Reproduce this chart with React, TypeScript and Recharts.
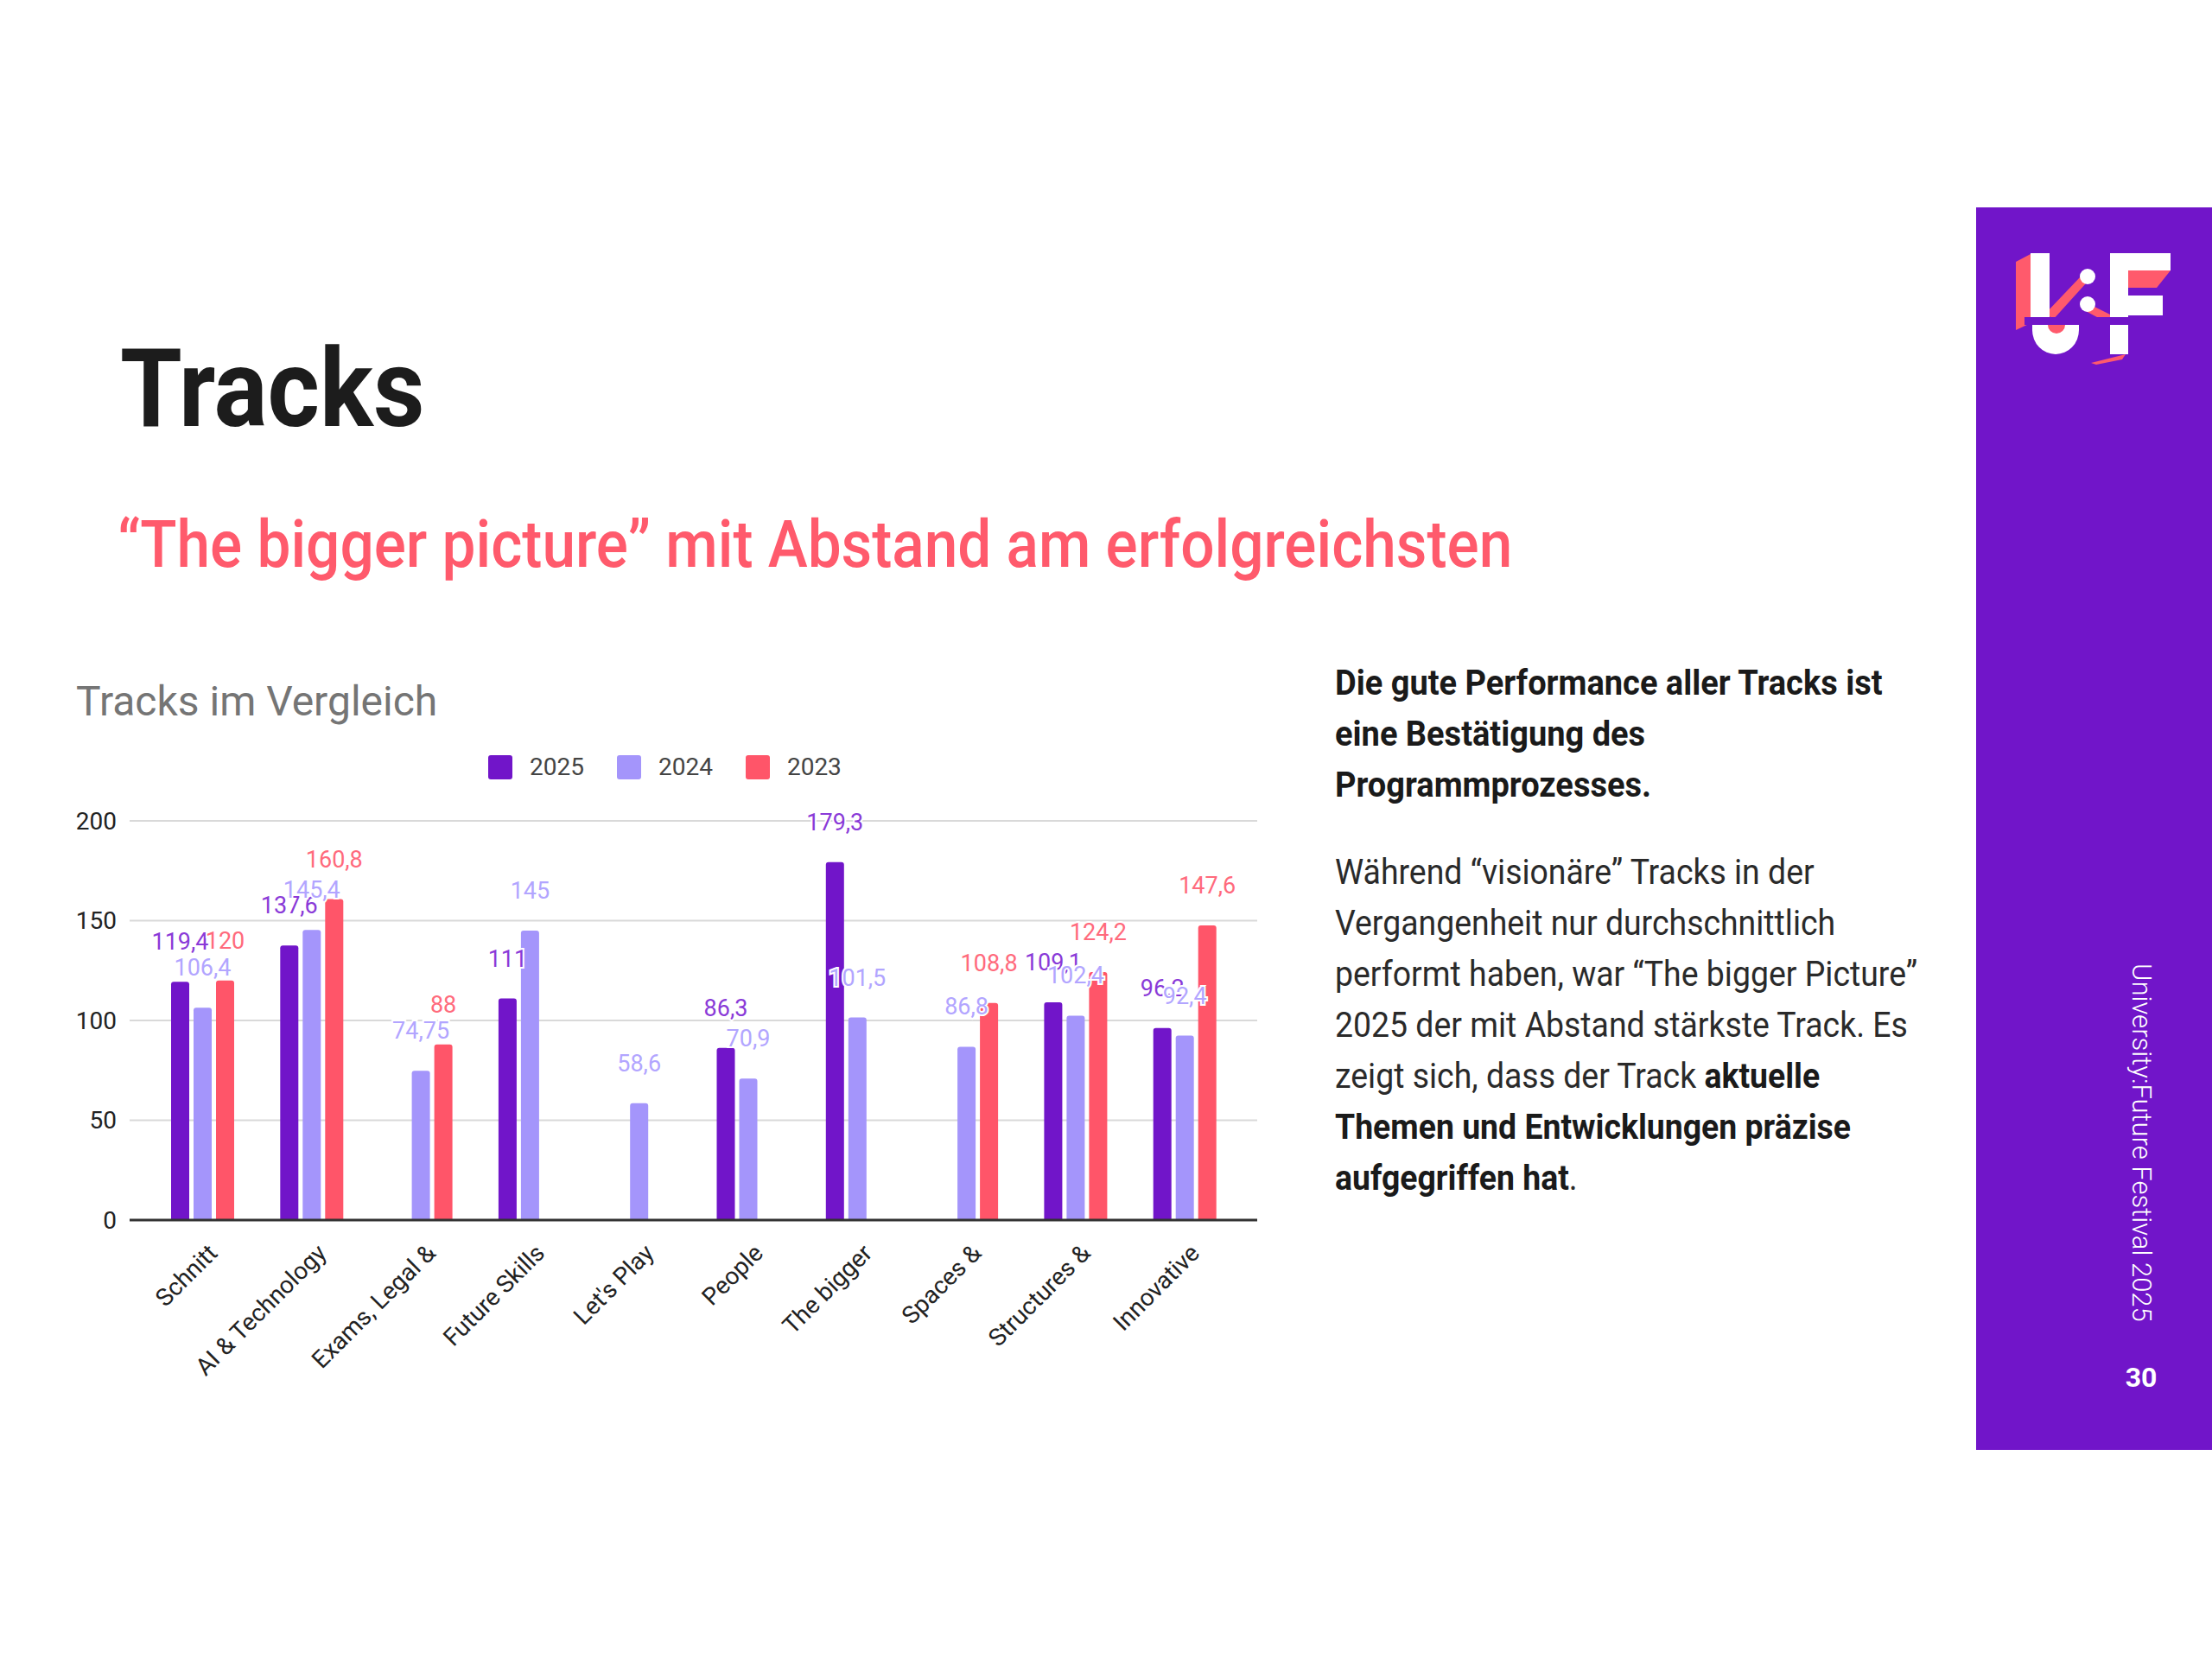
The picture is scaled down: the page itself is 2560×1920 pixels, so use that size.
import React from "react";
import {
  BarChart,
  Bar,
  XAxis,
  YAxis,
  CartesianGrid,
  Legend,
  LabelList,
} from "recharts";

const tracks = [
  "Schnitt",
  "AI & Technology",
  "Exams, Legal &",
  "Future Skills",
  "Let's Play",
  "People",
  "The bigger",
  "Spaces &",
  "Structures &",
  "Innovative",
];
const seriesNames = ["2025", "2024", "2023"];
const y2025 = [119.4, 137.6, null, 111, null, 86.3, 179.3, null, 109.1, 96.2];
const y2024 = [106.4, 145.4, 74.75, 145, 58.6, 70.9, 101.5, 86.8, 102.4, 92.4];
const y2023 = [120, 160.8, 88, null, null, null, null, 108.8, 124.2, 147.6];
const yTicks = [0, 50, 100, 150, 200];

const chartData = tracks.map((name, i) => ({
  name,
  "2025": y2025[i],
  "2024": y2024[i],
  "2023": y2023[i],
}));

const PURPLE = "#7115c9";
const LAVENDER = "#a495fb";
const CORAL = "#ff5569";

const fmt = (v: number) => String(v).replace(".", ",");

const makeLabel = (color: string) => (p: any) => {
  const { x, y, width, value } = p;
  if (value == null) return null;
  return (
    <text
      x={x + width / 2}
      y={y - 37}
      textAnchor="middle"
      fontSize={27}
      fontFamily="Roboto"
      fill={color}
      stroke="#fff"
      strokeWidth={4}
      paintOrder="stroke"
    >
      {fmt(value)}
    </text>
  );
};

const XTick = (props: any) => {
  const { x, y, payload } = props;
  return (
    <g transform={`translate(${x + 19},${y + 40})`}>
      <text
        textAnchor="end"
        transform="rotate(-45)"
        fontSize={28}
        fontFamily="Roboto"
        fill="#222"
      >
        {payload.value}
      </text>
    </g>
  );
};

const renderLegend = (props: any) => {
  const items = seriesNames
    .map((n) => props.payload.find((p: any) => p.value === n))
    .filter(Boolean);
  return (
    <div style={{ display: "flex", alignItems: "center", fontFamily: "Roboto" }}>
      {items.map((item: any) => (
        <div
          key={item.value}
          style={{ display: "flex", alignItems: "center", marginRight: 38 }}
        >
          <div
            style={{
              width: 28,
              height: 28,
              borderRadius: 3,
              background: item.color,
              marginRight: 20,
            }}
          />
          <span style={{ fontSize: 28, color: "#444" }}>{item.value}</span>
        </div>
      ))}
    </div>
  );
};

const narrow = (k: number): React.CSSProperties => ({
  display: "inline-block",
  whiteSpace: "nowrap",
  transform: `scaleX(${k})`,
  transformOrigin: "0 0",
});

const Logo = () => (
  <svg
    width={240}
    height={170}
    style={{ position: "absolute", left: 2310, top: 270 }}
  >
    <polygon points="23,33 40,24 40,104 23,112" fill="#ff5a6c" />
    <polygon points="58,92 98,50 104,58 66,100" fill="#ff5a6c" />
    <polygon points="104,80 136,96 130,104 100,88" fill="#ff5a6c" />
    <polygon points="153,43 202,43 186,63 153,63" fill="#ff5a6c" />
    <polygon points="110,150 150,140 146,146 116,152" fill="#ff5a6c" />
    <rect x={40} y={23} width={22} height={74} fill="#fff" />
    <circle cx={106} cy={50} r={9} fill="#fff" />
    <circle cx={106} cy={82} r={9} fill="#fff" />
    <path d="M42,106 L42,112 A27,28 0 0 0 96,112 L96,106 Z" fill="#fff" />
    <path d="M60,106 A10,10 0 0 0 80,106 Z" fill="#ff5a6c" />
    <rect x={132} y={23} width={21} height={117} fill="#fff" />
    <rect x={132} y={23} width={70} height={20} fill="#fff" />
    <rect x={153} y={72} width={40} height={23} fill="#fff" />
    <rect x={33} y={97} width={170} height={9} fill={PURPLE} />
  </svg>
);

export default function App() {
  return (
    <div
      style={{
        position: "absolute",
        left: 0,
        top: 0,
        width: 2560,
        height: 1920,
        background: "#fff",
        fontFamily: "Roboto",
        overflow: "hidden",
      }}
    >
      <div
        style={{
          position: "absolute",
          left: 139,
          top: 387,
          fontSize: 126,
          lineHeight: "126px",
          fontWeight: 700,
          color: "#1c1c1c",
        }}
      >
        <span style={narrow(0.92)}>Tracks</span>
      </div>
      <div
        style={{
          position: "absolute",
          left: 136,
          top: 592,
          fontSize: 76,
          lineHeight: "76px",
          fontWeight: 500,
          color: "#ff5a6c",
        }}
      >
        <span style={narrow(0.912)}>
          “The bigger picture” mit Abstand am erfolgreichsten
        </span>
      </div>

      <div
        style={{
          position: "absolute",
          left: 88,
          top: 788,
          fontSize: 48,
          lineHeight: "48px",
          color: "#757575",
        }}
      >
        Tracks im Vergleich
      </div>

      <div style={{ position: "absolute", left: 60, top: 840 }}>
        <BarChart
          width={1420}
          height={780}
          data={chartData}
          margin={{ top: 110, right: 25, bottom: 8, left: 0 }}
          barSize={21}
          barGap={5}
        >
          <CartesianGrid vertical={false} stroke="#d9d9d9" strokeWidth={2} />
          <XAxis
            dataKey="name"
            interval={0}
            height={200}
            padding={{ left: 21, right: 21 }}
            tickLine={false}
            tickSize={0}
            tickMargin={0}
            axisLine={{ stroke: "#333", strokeWidth: 3 }}
            tick={<XTick />}
          />
          <YAxis
            width={90}
            domain={[0, 200]}
            ticks={yTicks}
            axisLine={false}
            tickLine={false}
            tickMargin={9}
            tick={{ fontSize: 28, fill: "#222", fontFamily: "Roboto" }}
          />
          <Legend
            layout="horizontal"
            verticalAlign="middle"
            align="center"
            content={renderLegend}
            wrapperStyle={{ left: 505, top: 31, width: 600, height: 30 }}
          />
          <Bar dataKey="2025" fill={PURPLE} radius={[3, 3, 0, 0]} isAnimationActive={false}>
            <LabelList dataKey="2025" content={makeLabel("#8a3ad8")} />
          </Bar>
          <Bar dataKey="2024" fill={LAVENDER} radius={[3, 3, 0, 0]} isAnimationActive={false}>
            <LabelList dataKey="2024" content={makeLabel("#b2a5ff")} />
          </Bar>
          <Bar dataKey="2023" fill={CORAL} radius={[3, 3, 0, 0]} isAnimationActive={false}>
            <LabelList dataKey="2023" content={makeLabel("#ff6a7c")} />
          </Bar>
        </BarChart>
      </div>

      <div
        style={{
          position: "absolute",
          left: 1545,
          top: 761,
          fontSize: 40,
          lineHeight: "59px",
          fontWeight: 700,
          color: "#1a1a1a",
        }}
      >
        <span style={narrow(0.95)}>
          Die gute Performance aller Tracks ist
          <br />
          eine Bestätigung des
          <br />
          Programmprozesses.
        </span>
      </div>
      <div
        style={{
          position: "absolute",
          left: 1545,
          top: 980,
          fontSize: 40,
          lineHeight: "59px",
          color: "#2a2a2a",
        }}
      >
        <span style={narrow(0.935)}>
          Während “visionäre” Tracks in der
          <br />
          Vergangenheit nur durchschnittlich
          <br />
          performt haben, war “The bigger Picture”
          <br />
          2025 der mit Abstand stärkste Track. Es
          <br />
          zeigt sich, dass der Track <b style={{ color: "#1a1a1a" }}>aktuelle</b>
          <br />
          <b style={{ color: "#1a1a1a" }}>Themen und Entwicklungen präzise</b>
          <br />
          <b style={{ color: "#1a1a1a" }}>aufgegriffen hat</b>.
        </span>
      </div>

      <div
        style={{
          position: "absolute",
          left: 2287,
          top: 240,
          width: 273,
          height: 1438,
          background: PURPLE,
        }}
      />
      <Logo />
      <div
        style={{
          position: "absolute",
          left: 2460,
          top: 1115,
          writingMode: "vertical-rl",
          fontSize: 31,
          fontWeight: 300,
          color: "#fff",
          lineHeight: "36px",
          whiteSpace: "nowrap",
        }}
      >
        University:Future Festival 2025
      </div>
      <div
        style={{
          position: "absolute",
          left: 2440,
          top: 1576,
          width: 76,
          textAlign: "center",
          fontSize: 32,
          lineHeight: "36px",
          fontWeight: 700,
          color: "#fff",
        }}
      >
        30
      </div>
    </div>
  );
}
